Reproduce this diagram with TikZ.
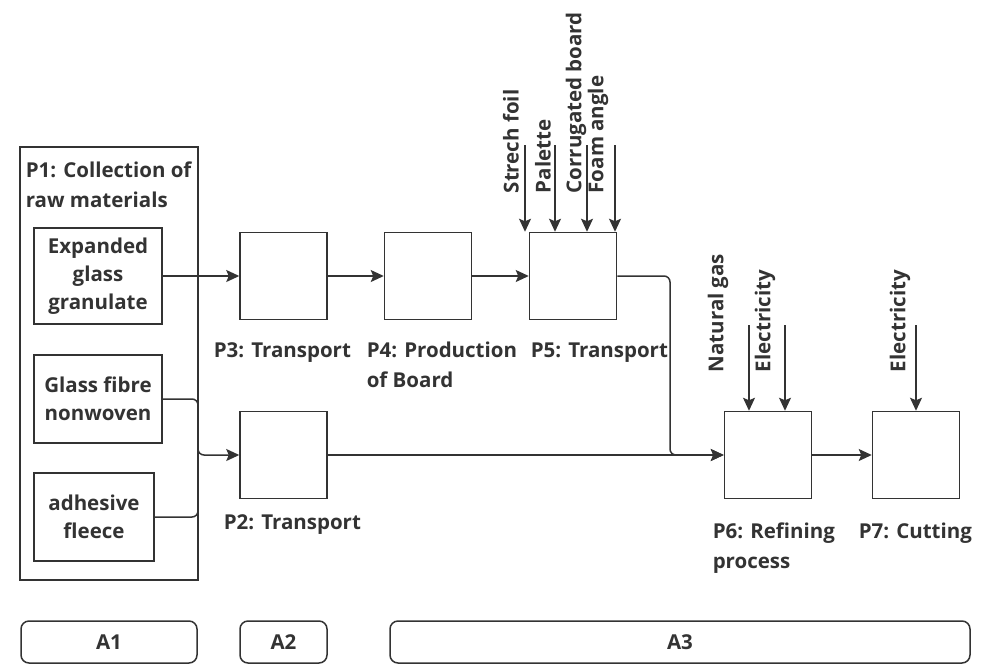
\documentclass[tikz,border=0pt]{standalone}
\usepackage{fontspec}
\setmainfont{Open Sans}
\usetikzlibrary{arrows.meta,positioning}
\definecolor{ink}{HTML}{333333}
\begin{document}
\begin{tikzpicture}[x=1pt, y=-1pt, line width=1.5pt, color=ink,
    box/.style={draw, minimum width=87pt, minimum height=87pt, inner sep=0pt},
    src/.style={draw, inner sep=0pt, align=center, font=\bfseries\fontsize{20.5}{28}\selectfont},
    lbl/.style={anchor=base west, inner sep=0pt, align=left, font=\bfseries\fontsize{20.5}{30}\selectfont},
    inp/.style={rotate=90, anchor=west, inner sep=0pt, font=\bfseries\fontsize{20.5}{30}\selectfont},
    area/.style={draw, rounded corners=8pt, minimum height=42pt, inner sep=0pt, font=\bfseries\fontsize{20.5}{30}\selectfont},
    flow/.style={-{Stealth[length=13pt, width=12pt, inset=2.5pt]}}]
\useasboundingbox (0,0) rectangle (996,665);
\node[draw, minimum width=178pt, minimum height=433pt] (p1) at (109,363.5) {};
\node[lbl] (p1t) at (25,207) {P1: Collection of\\raw materials};
\node[src, minimum width=128pt, minimum height=96pt] (glass) at (98,276) {Expanded\\glass\\granulate};
\node[src, minimum width=128pt, minimum height=88pt] (fibre) at (98,399) {Glass fibre\\nonwoven};
\node[src, minimum width=120pt, minimum height=88pt] (fleece) at (94,517) {adhesive\\fleece};

\node[box] (p3) at (283.5,276) {};
\node[box] (p4) at (428,276) {};
\node[box] (p5) at (573,276) {};
\node[box] (p2) at (283.5,455) {};
\node[box] (p6) at (768,455) {};
\node[box] (p7) at (916,455) {};

\node[lbl] (l3) at (213,357) {P3: Transport};
\node[lbl] (l4) at (366,387) {P4: Production\\of Board};
\node[lbl] (l5) at (530,357) {P5: Transport};
\node[lbl] (l2) at (223,529) {P2: Transport};
\node[lbl] (l6) at (712,568) {P6: Refining\\process};
\node[lbl] (l7) at (858,538) {P7: Cutting};

\coordinate (foil) at (525,145);
\coordinate (palette) at (555,145);
\coordinate (board) at (587,145);
\coordinate (angle) at (615,145);
\coordinate (gas) at (749,325);
\coordinate (elec6) at (785,325);
\coordinate (elec7) at (916,325);
\node[inp] (lfoil) at (511,194) {Strech foil};
\node[inp] (lpalette) at (543,194) {Palette};
\node[inp] (lboard) at (576,194) {Corrugated board};
\node[inp] (langle) at (598,194) {Foam angle};
\node[inp] (lgas) at (718,373) {Natural gas};
\node[inp] (lelec6) at (765,373) {Electricity};
\node[inp] (lelec7) at (900,373) {Electricity};
\draw[flow] (foil) -- (foil |- p5.north);
\draw[flow] (palette) -- (palette |- p5.north);
\draw[flow] (board) -- (board |- p5.north);
\draw[flow] (angle) -- (angle |- p5.north);
\draw[flow] (gas) -- (gas |- p6.north);
\draw[flow] (elec6) -- (elec6 |- p6.north);
\draw[flow] (elec7) -- (elec7 |- p7.north);

\coordinate (merge) at (198,455);
\coordinate (turn) at (670,455);
\draw[flow] (glass) -- (p3);
\draw[rounded corners=6pt] (fleece.east) -| (merge);
\draw[flow, rounded corners=6pt] (fibre.east) -| (merge) -- (p2);
\draw[flow] (p3) -- (p4);
\draw[flow] (p4) -- (p5);
\draw[flow, rounded corners=6pt] (p5.east) -| (turn) -- (p6.west);
\draw[flow] (p2) -- (p6);
\draw[flow] (p6) -- (p7);

\node[area, minimum width=176pt] (a1) at (109,642) {A1};
\node[area, minimum width=87pt] (a2) at (283.5,642) {A2};
\node[area, minimum width=580pt] (a3) at (680,642) {A3};
\end{tikzpicture}
\end{document}
